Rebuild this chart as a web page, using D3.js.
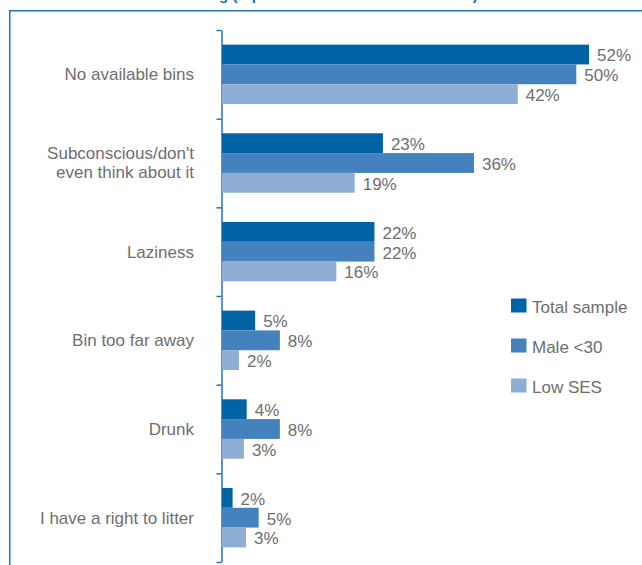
<!DOCTYPE html>
<html>
<head>
<meta charset="utf-8">
<script src="https://cdn.jsdelivr.net/npm/d3@7"></script>
<style>
  html, body { margin: 0; padding: 0; background: #fff; }
  svg { display: block; }
</style>
</head>
<body>
<svg id="chart" width="642" height="565"></svg>
<script>
// ---- data ----
const titleText = "Reasons for littering (top three most common reasons)";
const categories = [
  ["No available bins"],
  ["Subconscious/don't", "even think about it"],
  ["Laziness"],
  ["Bin too far away"],
  ["Drunk"],
  ["I have a right to litter"]
];
const seriesNames = ["Total sample", "Male <30", "Low SES"];
const seriesColors = ["#0063a6", "#4382bc", "#8faed6"];
const totalSample = [52, 22.8, 21.6, 4.7, 3.5, 1.5];
const male30      = [50.2, 35.7, 21.6, 8.2, 8.2, 5.2];
const lowSES      = [41.9, 18.8, 16.2, 2.4, 3.1, 3.4];
const seriesValues = [totalSample, male30, lowSES];

// ---- layout ----
const svg = d3.select("#chart");
const frameColor = "#2174ba";
const textColor = "#6e6e6e";
const fontFam = "'Liberation Sans', Arial, Helvetica, sans-serif";

// frame box (extends past page edges)
svg.append("rect")
  .attr("x", 9.75).attr("y", 10.75)
  .attr("width", 800).attr("height", 800)
  .attr("fill", "none").attr("stroke", frameColor).attr("stroke-width", 1.5);

// partly hidden title
const title = svg.append("text")
  .attr("font-family", fontFam).attr("font-weight", "bold")
  .attr("font-size", 15).attr("fill", "#1a6db0")
  .attr("y", 0)
  .text(titleText);
(function placeTitle() {
  const idx = titleText.indexOf("g (");
  const node = title.node();
  const full = node.getComputedTextLength();
  const pre = node.getSubStringLength(0, idx);
  const span = full - pre;
  const fs = 15 * 259 / span;
  title.attr("font-size", fs);
  const pre2 = node.getSubStringLength(0, idx);
  title.attr("x", 219 - pre2);
})();

const catKeys = categories.map(c => c.join(" "));
const yTop = 30, yBot = 562;
const x0 = 222;
const x = d3.scaleLinear().domain([0, 52]).range([x0, 589]);
const y = d3.scaleBand().domain(catKeys).range([yTop, yBot]).paddingInner(0.33).paddingOuter(0.165);
const ySub = d3.scaleBand().domain(seriesNames).range([0, y.bandwidth()]);

// axis with ticks at band edges
const yEdge = d3.scaleLinear().domain([0, categories.length]).range([yTop, yBot]);
const axisG = svg.append("g")
  .attr("transform", `translate(${x0 - 0.5},0)`)
  .call(d3.axisLeft(yEdge).ticks(categories.length).tickSize(5).tickSizeOuter(0).tickFormat(""));
axisG.selectAll("path, line").attr("stroke", frameColor).attr("stroke-width", 1.5);

// category labels
categories.forEach((lines, i) => {
  const cy = y(catKeys[i]) + y.bandwidth() / 2;
  const lh = 19;
  const t = svg.append("text")
    .attr("font-family", fontFam).attr("font-size", 17).attr("fill", textColor)
    .attr("text-anchor", "end");
  lines.forEach((ln, j) => {
    t.append("tspan")
      .attr("x", 194)
      .attr("y", cy + (j - (lines.length - 1) / 2) * lh)
      .attr("dy", "0.35em")
      .text(ln);
  });
});

// bars + labels
seriesNames.forEach((name, s) => {
  const g = svg.append("g");
  const vals = seriesValues[s];
  g.selectAll("rect").data(vals).join("rect")
    .attr("x", x0)
    .attr("y", (d, i) => y(catKeys[i]) + ySub(name))
    .attr("width", d => x(d) - x0)
    .attr("height", ySub.bandwidth())
    .attr("fill", seriesColors[s]);
  g.selectAll("text").data(vals).join("text")
    .attr("font-family", fontFam).attr("font-size", 17).attr("fill", textColor)
    .attr("x", d => x(d) + 8)
    .attr("y", (d, i) => y(catKeys[i]) + ySub(name) + ySub.bandwidth() / 2 + 1)
    .attr("dy", "0.35em")
    .text(d => Math.round(d) + "%");
});

// legend
const legend = svg.append("g").attr("transform", "translate(511,298.5)");
seriesNames.forEach((name, s) => {
  const lg = legend.append("g").attr("transform", `translate(0,${s * 40})`);
  lg.append("rect").attr("width", 15.5).attr("height", 14).attr("fill", seriesColors[s]);
  lg.append("text")
    .attr("x", 21).attr("y", 14)
    .attr("font-family", fontFam).attr("font-size", 17).attr("fill", textColor)
    .text(name);
});
</script>
</body>
</html>
